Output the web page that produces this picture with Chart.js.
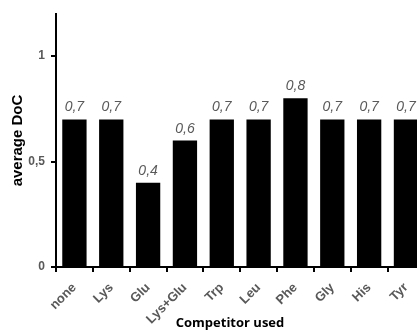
<!DOCTYPE html>
<html>
<head>
<meta charset="utf-8">
<script src="https://cdn.jsdelivr.net/npm/chart.js@4"></script>
<style>
  html, body { margin: 0; padding: 0; background: #fff; overflow: hidden; }
  #wrap { width: 425px; height: 330px; position: relative; }
</style>
</head>
<body>
<div id="wrap"><canvas id="chart"></canvas></div>
<script>
const categories = ['none', 'Lys', 'Glu', 'Lys+Glu', 'Trp', 'Leu', 'Phe', 'Gly', 'His', 'Tyr'];
const docValues = [0.7, 0.7, 0.4, 0.6, 0.7, 0.7, 0.8, 0.7, 0.7, 0.7];
const yTicks = [0, 0.5, 1];

const fmt = v => String(v).replace('.', ',');

// value labels above each bar + x axis title
const extraText = {
    id: 'extraText',
    afterDatasetsDraw(chart) {
        const ctx = chart.ctx;
        const meta = chart.getDatasetMeta(0);
        ctx.save();
        ctx.font = 'italic 14px "Liberation Sans", Arial, sans-serif';
        ctx.fillStyle = '#595959';
        ctx.textAlign = 'center';
        ctx.textBaseline = 'alphabetic';
        meta.data.forEach((bar, i) => {
            ctx.fillText(fmt(docValues[i]), bar.x, bar.y - 8);
        });
        ctx.font = 'bold 13px "Open Sans", sans-serif';
        ctx.fillStyle = '#000';
        ctx.fillText('Competitor used', 230, 327);
        ctx.restore();
    }
};

new Chart(document.getElementById('chart'), {
    type: 'bar',
    data: {
        labels: categories,
        datasets: [{
            data: docValues,
            backgroundColor: '#000',
            borderWidth: 0,
            barPercentage: 1,
            categoryPercentage: 0.66
        }]
    },
    options: {
        responsive: true,
        maintainAspectRatio: false,
        animation: false,
        layout: { padding: { top: 14, left: 0, right: 0, bottom: 0 } },
        plugins: { legend: { display: false }, tooltip: { enabled: false } },
        scales: {
            x: {
                afterFit: s => { s.height = 63; },
                border: { color: '#000', width: 2 },
                grid: { display: true, drawOnChartArea: false, color: '#000', lineWidth: 2, tickLength: 5, offset: true },
                ticks: {
                    color: '#595959',
                    font: { family: '"Liberation Sans", Arial, sans-serif', weight: 'bold', size: 13 },
                    maxRotation: 45, minRotation: 45,
                    padding: 8
                },
                title: { display: false }
            },
            y: {
                min: 0, max: 1.2,
                afterFit: s => { s.width = 56; },
                afterBuildTicks: s => { s.ticks = yTicks.map(v => ({ value: v })); },
                border: { color: '#000', width: 2 },
                grid: { display: true, drawOnChartArea: false, color: '#000', lineWidth: 2, tickLength: 5 },
                ticks: {
                    color: '#595959',
                    font: { family: '"Liberation Sans", Arial, sans-serif', weight: 'bold', size: 12 },
                    padding: 6,
                    callback: v => fmt(v)
                },
                title: {
                    display: true,
                    text: 'average DoC',
                    color: '#000',
                    font: { family: '"Liberation Sans", Arial, sans-serif', weight: 'bold', size: 15 },
                    padding: { top: 9, bottom: 0 }
                }
            }
        }
    },
    plugins: [extraText]
});
</script>
</body>
</html>
